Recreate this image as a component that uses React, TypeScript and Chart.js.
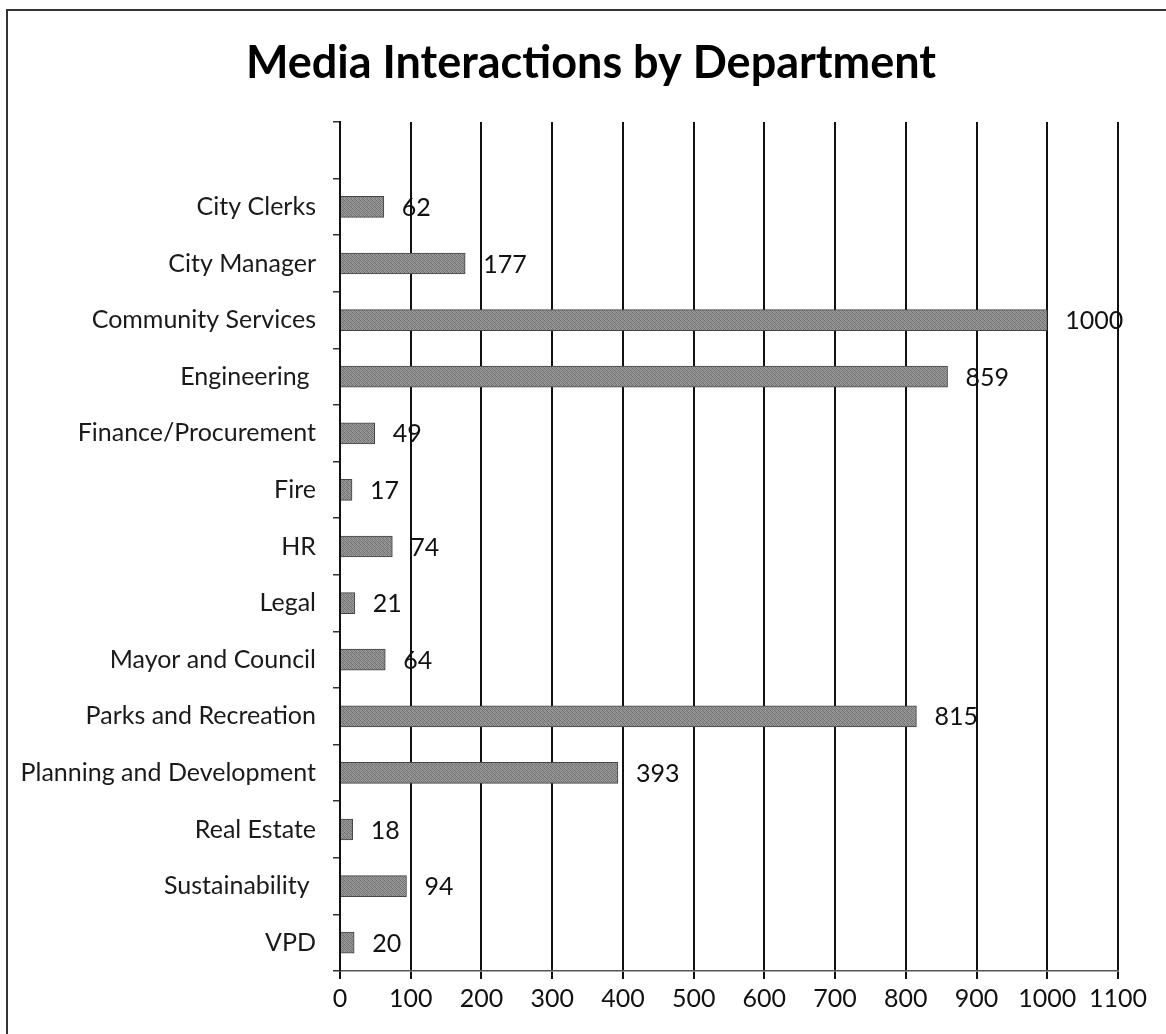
import React, { useEffect, useRef } from "react";
import { Chart, registerables } from "chart.js";

Chart.register(...registerables);

const TITLE = "Media Interactions by Department";
const CATEGORIES = [
  "",
  "City Clerks",
  "City Manager",
  "Community Services",
  "Engineering ",
  "Finance/Procurement",
  "Fire",
  "HR",
  "Legal",
  "Mayor and Council",
  "Parks and Recreation",
  "Planning and Development",
  "Real Estate",
  "Sustainability ",
  "VPD",
];
const VALUES: (number | null)[] = [null, 62, 177, 1000, 859, 49, 17, 74, 21, 64, 815, 393, 18, 94, 20];
const X_MIN = 0;
const X_MAX = 1100;
const X_STEP = 100;

const FONT = "Lato, 'Open Sans', sans-serif";
const LABEL_SIZE = 25;
const TITLE_SIZE = 45;

function makePattern(ctx: CanvasRenderingContext2D): CanvasPattern | string {
  const c = document.createElement("canvas");
  c.width = 4;
  c.height = 4;
  const g = c.getContext("2d");
  if (!g) return "#858585";
  const shades = [
    "#6a6a6a", "#a0a0a0", "#848484", "#969696",
    "#949494", "#767676", "#9a9a9a", "#7a7a7a",
    "#888888", "#9e9e9e", "#6e6e6e", "#929292",
    "#9c9c9c", "#808080", "#989898", "#727272",
  ];
  for (let i = 0; i < 16; i++) {
    g.fillStyle = shades[i];
    g.fillRect(i % 4, Math.floor(i / 4), 1, 1);
  }
  return ctx.createPattern(c, "repeat") || "#858585";
}

const titlePlugin = {
  id: "centeredTitle",
  afterDraw(chart: any) {
    const ctx = chart.ctx;
    ctx.save();
    ctx.font = `bold ${TITLE_SIZE}px ${FONT}`;
    ctx.fillStyle = "#000";
    ctx.textAlign = "center";
    ctx.textBaseline = "middle";
    ctx.fillText(TITLE, 591, 63);
    ctx.restore();
  },
};

const valueLabels = {
  id: "valueLabels",
  afterDatasetsDraw(chart: any) {
    const ctx = chart.ctx;
    const meta = chart.getDatasetMeta(0);
    ctx.save();
    ctx.font = `${LABEL_SIZE}px ${FONT}`;
    ctx.fillStyle = "#111";
    ctx.textBaseline = "middle";
    ctx.textAlign = "left";
    meta.data.forEach((bar: any, i: number) => {
      const v = VALUES[i];
      if (v === null || v === undefined) return;
      ctx.fillText(String(v), bar.x + 18, bar.y + 1);
    });
    ctx.restore();
  },
};

export default function App() {
  const ref = useRef<HTMLCanvasElement | null>(null);

  useEffect(() => {
    const canvas = ref.current;
    if (!canvas) return;
    const ctx = canvas.getContext("2d");
    if (!ctx) return;
    const pattern = makePattern(ctx);
    const chart = new Chart(canvas, {
      type: "bar",
      data: {
        labels: CATEGORIES,
        datasets: [
          {
            data: VALUES as any,
            backgroundColor: pattern as any,
            borderColor: "#444",
            borderWidth: 1,
            barThickness: 21,
          },
        ],
      },
      options: {
        indexAxis: "y",
        animation: false,
        responsive: false,
        maintainAspectRatio: false,
        layout: { padding: { left: 0, right: 48, top: 122, bottom: 0 } },
        plugins: {
          legend: { display: false },
          tooltip: { enabled: false },
          title: { display: false },
        },
        scales: {
          x: {
            type: "linear",
            min: X_MIN,
            max: X_MAX,
            ticks: {
              stepSize: X_STEP,
              color: "#111",
              font: { family: FONT, size: LABEL_SIZE },
              padding: 5,
              maxRotation: 0,
              callback: (v: any) => String(v),
            },
            grid: {
              color: "#111",
              lineWidth: 2,
              drawTicks: true,
              tickLength: 8,
              tickColor: "#111",
            },
            border: { display: true, color: "#555", width: 1.5 },
            afterFit: (scale: any) => {
              scale.height = 63;
            },
          },
          y: {
            type: "category",
            ticks: {
              color: "#1a1a1a",
              font: { family: FONT, size: LABEL_SIZE },
              padding: 17,
              autoSkip: false,
            },
            grid: {
              display: true,
              offset: true,
              drawOnChartArea: false,
              drawTicks: true,
              tickLength: 7,
              color: "#333",
              lineWidth: 1.5,
            },
            border: { display: true, color: "#111", width: 2 },
            afterFit: (scale: any) => {
              scale.width = 340;
            },
          },
        },
      } as any,
      plugins: [valueLabels, titlePlugin],
    });
    return () => chart.destroy();
  }, []);

  return (
    <div
      style={{
        position: "absolute",
        left: 0,
        top: 0,
        width: 1166,
        height: 1034,
        overflow: "hidden",
        background: "#fff",
      }}
    >
      <div
        style={{
          position: "absolute",
          left: 6,
          top: 9,
          width: 1300,
          height: 1200,
          border: "2px solid #333",
        }}
      />
      <canvas
        ref={ref}
        width={1166}
        height={1034}
        style={{ position: "absolute", left: 0, top: 0, width: 1166, height: 1034 }}
      />
    </div>
  );
}
